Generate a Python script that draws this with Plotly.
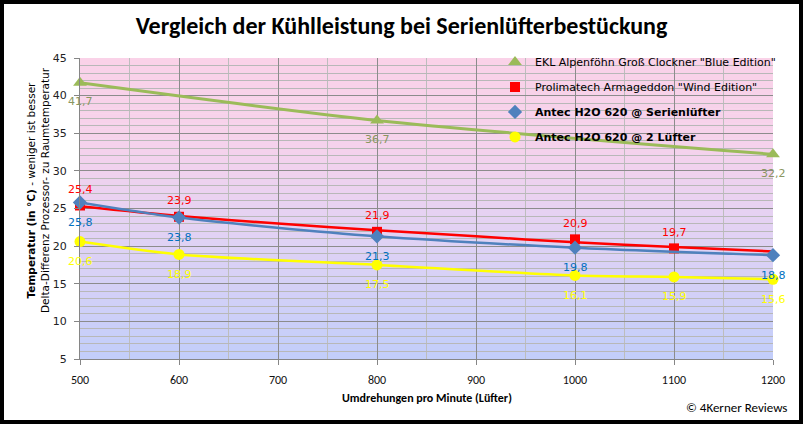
import plotly.graph_objects as go

# ---------------- data ----------------
rpm_green = [500, 800, 1200]
temp_green = [41.7, 36.7, 32.2]

rpm_red = [500, 600, 800, 1000, 1100]
temp_red = [25.4, 23.9, 21.9, 20.9, 19.7]
# trend line of the red series
red_trend_rpm = [500, 600, 700, 800, 900, 1000, 1100, 1200]
red_trend_temp = [25.3, 24.0, 23.0, 22.1, 21.3, 20.5, 19.9, 19.3]

rpm_blue = [500, 600, 800, 1000, 1200]
temp_blue = [25.8, 23.8, 21.3, 19.8, 18.8]

rpm_yellow = [500, 600, 800, 1000, 1100, 1200]
temp_yellow = [20.6, 18.9, 17.5, 16.1, 15.9, 15.6]

names = [
    'EKL Alpenföhn Groß Clockner "Blue Edition"',
    'Prolimatech Armageddon "Wind Edition"',
    '<b>Antec H2O 620 @ Serienlüfter</b>',
    '<b>Antec H2O 620 @ 2 Lüfter</b>',
]

x_ticks = [500, 600, 700, 800, 900, 1000, 1100, 1200]
y_ticks = [5, 10, 15, 20, 25, 30, 35, 40, 45]

title_text = "Vergleich der Kühlleistung bei Serienlüfterbestückung"
x_title = "Umdrehungen pro Minute (Lüfter)"
y_title = "<b>Temperatur (in °C)</b> - weniger ist besser<br>Delta-Differenz Prozessor- zu Raumtemperatur"
credit = "© 4Kerner Reviews"

# ---------------- style ----------------
GREEN = "#9BBB59"
RED = "#FF0000"
BLUE = "#4F81BD"
YELLOW = "#FFFF00"
LBL_GREEN = "#8A9660"
LBL_RED = "#FF0000"
LBL_BLUE = "#0070C0"
LBL_YELLOW = "#FFFF00"
SANS = "DejaVu Sans, Verdana, sans-serif"
CAL = "Carlito, Lato, sans-serif"

W, H = 803, 424
ML, MR, MT, MB = 80, 30, 58, 65
PW, PH = W - ML - MR, H - MT - MB

fig = go.Figure()

def add_series(xs, ys, color, name, symbol, msize, group, line_x=None, line_y=None, lw=2.5):
    lx = xs if line_x is None else line_x
    ly = ys if line_y is None else line_y
    fig.add_trace(go.Scatter(x=lx, y=ly, mode="lines", line=dict(color=color, width=lw, shape="spline", smoothing=0.8),
                             showlegend=False, hoverinfo="skip", legendgroup=group))
    fig.add_trace(go.Scatter(x=xs, y=ys, mode="markers", name=name, legendgroup=group,
                             marker=dict(color=color, symbol=symbol, size=msize, line=dict(width=0)),
                             cliponaxis=False))

add_series(rpm_green, temp_green, GREEN, names[0], "triangle-up", 12, "g", lw=3)
add_series(rpm_red, temp_red, RED, names[1], "square", 10, "r", red_trend_rpm, red_trend_temp)
add_series(rpm_blue, temp_blue, BLUE, names[2], "diamond", 11, "b")
add_series(rpm_yellow, temp_yellow, YELLOW, names[3], "circle", 11, "y")

def fmt(v):
    return f"{v:.1f}".replace(".", ",")

annotations = []
for xs, ys, col, shift in [
    (rpm_green, temp_green, LBL_GREEN, -19),
    (rpm_red, temp_red, LBL_RED, 16),
    (rpm_blue, temp_blue, LBL_BLUE, -20),
    (rpm_yellow, temp_yellow, LBL_YELLOW, -20),
]:
    for xv, yv in zip(xs, ys):
        annotations.append(dict(x=xv, y=yv, xref="x", yref="y", text=fmt(yv), showarrow=False,
                                yshift=shift, font=dict(family=SANS, size=11, color=col)))

annotations.append(dict(x=0.5, y=-(398 - (MT + PH)) / PH, xref="paper", yref="paper", text="<b>" + x_title + "</b>",
                        showarrow=False, yanchor="middle", font=dict(family=CAL, size=12, color="#000")))
annotations.append(dict(x=(38 - ML) / PW, y=((MT + PH) - 190) / PH, xref="paper", yref="paper", text=y_title,
                        showarrow=False, textangle=-90, xanchor="center", yanchor="middle",
                        font=dict(family=SANS, size=10.5, color="#000")))
annotations.append(dict(x=(789 - ML) / PW, y=-(407 - (MT + PH)) / PH, xref="paper", yref="paper", text=credit,
                        showarrow=False, xanchor="right", yanchor="middle", font=dict(family=CAL, size=13, color="#000")))

# gradient background of the plot area
stops = [(0.0, (250, 210, 232)), (0.3, (245, 210, 236)), (0.6, (224, 210, 244)), (1.0, (194, 206, 250))]
def col_at(t):
    for (t0, c0), (t1, c1) in zip(stops[:-1], stops[1:]):
        if t0 <= t <= t1:
            f = (t - t0) / (t1 - t0)
            return "rgb(%d,%d,%d)" % tuple(round(a + (b - a) * f) for a, b in zip(c0, c1))
    return "rgb(%d,%d,%d)" % stops[-1][1]

shapes = []
N = 60
for i in range(N):
    t = (i + 0.5) / N  # 0 at top
    shapes.append(dict(type="rect", xref="paper", yref="paper", x0=0, x1=1,
                       y0=1 - (i + 1) / N - 0.002, y1=1 - i / N, fillcolor=col_at(t),
                       line=dict(width=0), layer="below"))
# outer black frame
shapes.append(dict(type="rect", xref="paper", yref="paper",
                   x0=-ML / PW, x1=1 + MR / PW, y0=-MB / PH, y1=1 + MT / PH,
                   line=dict(color="black", width=8), fillcolor="rgba(0,0,0,0)", layer="above"))

fig.update_layout(
    width=W, height=H,
    margin=dict(l=ML, r=MR, t=MT, b=MB),
    paper_bgcolor="white",
    plot_bgcolor="white",
    title=dict(text="<b>" + title_text + "</b>", x=0.5, xanchor="center", xref="container",
               y=1 - 26 / H, yanchor="middle", yref="container",
               font=dict(family=CAL, size=24, color="#000")),
    xaxis=dict(range=[500, 1200], tickvals=x_ticks, ticks="outside", ticklen=5, tickcolor="#868686",
               showline=True, linecolor="#868686", linewidth=1, ticklabelstandoff=5,
               showgrid=True, gridcolor="#8C8C8C", gridwidth=1, zeroline=False,
               minor=dict(dtick=50, tick0=500, showgrid=True, gridcolor="#BDBDBD", ticks=""),
               tickfont=dict(family=CAL, size=12, color="#111")),
    yaxis=dict(range=[5, 45], tickvals=y_ticks, ticks="outside", ticklen=5, tickcolor="#868686",
               showline=True, linecolor="#868686", linewidth=1, ticklabelstandoff=5,
               showgrid=True, gridcolor="#8C8C8C", gridwidth=1, zeroline=False,
               minor=dict(dtick=1, tick0=5, showgrid=True, gridcolor="#B8B8B8", ticks=""),
               tickfont=dict(family=SANS, size=11, color="#222")),
    legend=dict(x=(495 - ML) / PW, y=1.035, xanchor="left", yanchor="top", bgcolor="rgba(0,0,0,0)",
                traceorder="grouped", tracegroupgap=6,
                font=dict(family=SANS, size=11, color="#000")),
    annotations=annotations,
    shapes=shapes,
    showlegend=True,
)

fig.write_html("out.html")
